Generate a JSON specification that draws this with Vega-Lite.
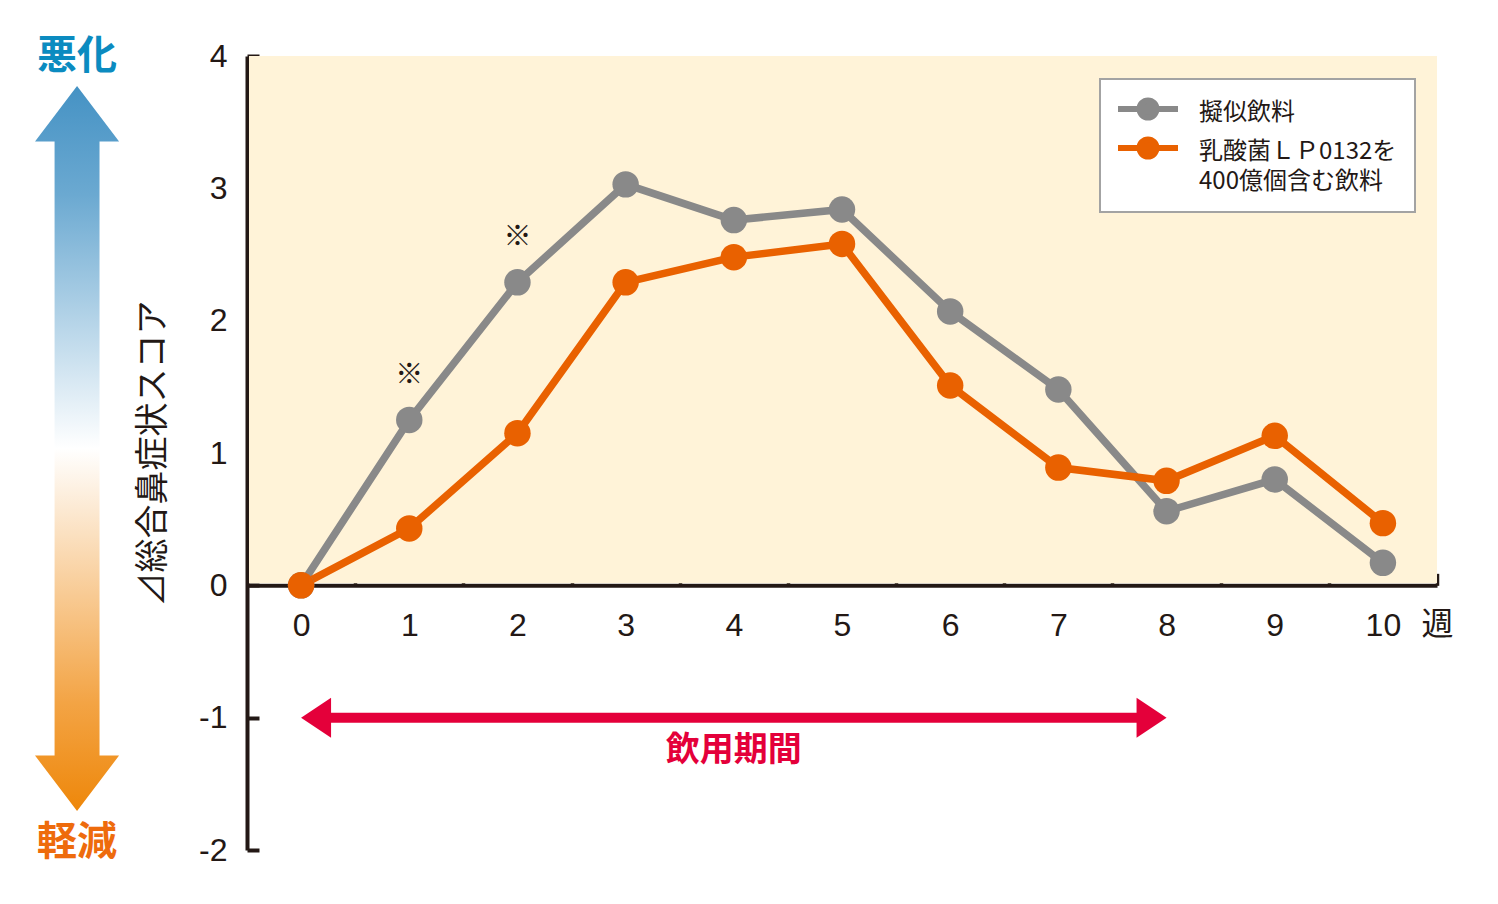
{
  "$schema": "https://vega.github.io/schema/vega-lite/v6.json",
  "width": 1190,
  "height": 794,
  "autosize": {"type": "none"},
  "padding": {"left": 247, "top": 56, "right": 61, "bottom": 54},
  "background": "#ffffff",
  "config": {"view": {"stroke": null}, "font": "Noto Sans CJK JP"},
  "datasets": {
    "scores": [
      {"week": 0, "score": 0, "group": "擬似飲料"},
      {"week": 1, "score": 1.25, "group": "擬似飲料", "sig": "※"},
      {"week": 2, "score": 2.29, "group": "擬似飲料", "sig": "※"},
      {"week": 3, "score": 3.03, "group": "擬似飲料"},
      {"week": 4, "score": 2.76, "group": "擬似飲料"},
      {"week": 5, "score": 2.84, "group": "擬似飲料"},
      {"week": 6, "score": 2.07, "group": "擬似飲料"},
      {"week": 7, "score": 1.48, "group": "擬似飲料"},
      {"week": 8, "score": 0.56, "group": "擬似飲料"},
      {"week": 9, "score": 0.8, "group": "擬似飲料"},
      {"week": 10, "score": 0.17, "group": "擬似飲料"},
      {"week": 0, "score": 0, "group": "乳酸菌ＬＰ0132を400億個含む飲料"},
      {"week": 1, "score": 0.43, "group": "乳酸菌ＬＰ0132を400億個含む飲料"},
      {"week": 2, "score": 1.15, "group": "乳酸菌ＬＰ0132を400億個含む飲料"},
      {"week": 3, "score": 2.29, "group": "乳酸菌ＬＰ0132を400億個含む飲料"},
      {"week": 4, "score": 2.48, "group": "乳酸菌ＬＰ0132を400億個含む飲料"},
      {"week": 5, "score": 2.58, "group": "乳酸菌ＬＰ0132を400億個含む飲料"},
      {"week": 6, "score": 1.51, "group": "乳酸菌ＬＰ0132を400億個含む飲料"},
      {"week": 7, "score": 0.89, "group": "乳酸菌ＬＰ0132を400億個含む飲料"},
      {"week": 8, "score": 0.79, "group": "乳酸菌ＬＰ0132を400億個含む飲料"},
      {"week": 9, "score": 1.13, "group": "乳酸菌ＬＰ0132を400億個含む飲料"},
      {"week": 10, "score": 0.47, "group": "乳酸菌ＬＰ0132を400億個含む飲料"}
    ],
    "period": [{"start": 0, "end": 8, "label": "飲用期間"}],
    "one": [{"item": "decoration"}]
  },
  "layer": [
    {
      "data": {"name": "one"},
      "mark": {"type": "rect", "color": "#FFF3D8", "xOffset": 2, "y2Offset": -2},
      "encoding": {
        "x": {
          "datum": -0.5, "type": "quantitative",
          "scale": {"domain": [-0.5, 10.5], "nice": false, "zero": false},
          "axis": {
            "title": "週", "titleX": 1190, "titleY": 39, "titleAlign": "center", "titleBaseline": "middle",
            "titleFontSize": 32, "titleFontWeight": "normal", "titleColor": "#231815", "titleFont": "Noto Sans CJK JP",
            "values": [0, 1, 2, 3, 4, 5, 6, 7, 8, 9, 10],
            "offset": -264.67, "tickOffset": 54.09, "labelOffset": -54.09,
            "tickSize": -12, "tickWidth": 3.5, "tickColor": "#231815",
            "domainColor": "#231815", "domainWidth": 4,
            "labelFont": "Liberation Sans", "labelFontSize": 32, "labelColor": "#231815", "labelPadding": 37,
            "labelFlush": false, "labelOverlap": false, "labelExpr": "'' + datum.value", "grid": false, "zindex": 0
          }
        },
        "x2": {"datum": 10.5},
        "y": {
          "datum": 4, "type": "quantitative",
          "scale": {"domain": [-2, 4], "nice": false, "zero": false},
          "axis": {
            "title": "⊿総合鼻症状スコア", "titleX": -94, "titleY": 397, "titleAngle": -90,
            "titleAlign": "center", "titleBaseline": "middle",
            "titleFontSize": 34, "titleFontWeight": "normal", "titleColor": "#231815", "titleFont": "Noto Sans CJK JP",
            "values": [-2, -1, 0, 1, 2, 3, 4],
            "tickSize": -12, "tickWidth": 4, "tickColor": "#231815",
            "domainColor": "#231815", "domainWidth": 4,
            "labelFont": "Liberation Sans", "labelFontSize": 32, "labelColor": "#231815", "labelPadding": 32,
            "labelFlush": false, "labelOverlap": false, "labelExpr": "'' + datum.value", "grid": false, "zindex": 0
          }
        },
        "y2": {"datum": 0}
      }
    },
    {
      "data": {"name": "one"},
      "mark": {
        "type": "point",
        "shape": "M0,-1L0.116,-0.847L0.062,-0.847L0.062,0.847L0.116,0.847L0,1L-0.116,0.847L-0.062,0.847L-0.062,-0.847L-0.116,-0.847Z",
        "size": 525625, "filled": true, "opacity": 1, "strokeWidth": 0,
        "fill": {
          "gradient": "linear", "x1": 0, "y1": 0, "x2": 0, "y2": 1,
          "stops": [
            {"offset": 0, "color": "#4592C4"},
            {"offset": 0.15, "color": "#6BA9D1"},
            {"offset": 0.5, "color": "#FFFFFF"},
            {"offset": 0.85, "color": "#F3A445"},
            {"offset": 1, "color": "#EE870A"}
          ]
        }
      },
      "encoding": {"x": {"datum": -2.071}, "y": {"datum": 1.034}}
    },
    {
      "data": {"name": "one"},
      "mark": {"type": "text", "text": "悪化", "fontSize": 40, "fontWeight": "bold", "color": "#0B8BC0", "baseline": "middle", "align": "center"},
      "encoding": {"x": {"datum": -2.071}, "y": {"datum": 3.99}}
    },
    {
      "data": {"name": "one"},
      "mark": {"type": "text", "text": "軽減", "fontSize": 40, "fontWeight": "bold", "color": "#EE6B0C", "baseline": "middle", "align": "center"},
      "encoding": {"x": {"datum": -2.071}, "y": {"datum": -1.947}}
    },
    {
      "data": {"name": "period"},
      "mark": {"type": "rule", "color": "#E4003A", "strokeWidth": 10, "xOffset": 20, "x2Offset": -20},
      "encoding": {"x": {"field": "start", "type": "quantitative"}, "x2": {"field": "end"}, "y": {"datum": -1}}
    },
    {
      "data": {"name": "period"},
      "mark": {"type": "point", "shape": "M1.5,-1L0,0L1.5,1Z", "size": 1600, "filled": true, "opacity": 1, "strokeWidth": 0, "color": "#E4003A"},
      "encoding": {"x": {"field": "start", "type": "quantitative"}, "y": {"datum": -1}}
    },
    {
      "data": {"name": "period"},
      "mark": {"type": "point", "shape": "M-1.5,-1L0,0L-1.5,1Z", "size": 1600, "filled": true, "opacity": 1, "strokeWidth": 0, "color": "#E4003A"},
      "encoding": {"x": {"field": "end", "type": "quantitative"}, "y": {"datum": -1}}
    },
    {
      "data": {"name": "period"},
      "mark": {"type": "text", "fontSize": 34, "fontWeight": "bold", "color": "#E4003A", "baseline": "middle", "align": "center", "dy": 33},
      "encoding": {"x": {"datum": 4}, "y": {"datum": -1}, "text": {"field": "label"}}
    },
    {
      "data": {"name": "scores"},
      "mark": {"type": "line", "strokeWidth": 7.5},
      "encoding": {
        "x": {"field": "week", "type": "quantitative"},
        "y": {"field": "score", "type": "quantitative"},
        "color": {
          "field": "group", "type": "nominal",
          "scale": {"domain": ["擬似飲料", "乳酸菌ＬＰ0132を400億個含む飲料"], "range": ["#898989", "#E96100"]},
          "legend": {
            "orient": "none", "legendX": 853, "legendY": 23, "title": null,
            "fillColor": "#FFFFFF", "strokeColor": "#A3A3A3", "padding": 18,
            "symbolType": "M-1.333,0L5.333,0M2.944,0C2.944,0.522,2.522,0.944,2,0.944C1.478,0.944,1.056,0.522,1.056,0C1.056,-0.522,1.478,-0.944,2,-0.944C2.522,-0.944,2.944,-0.522,2.944,0Z",
            "symbolSize": 324, "symbolStrokeWidth": 6, "symbolOpacity": 1,
            "labelFont": "Noto Sans CJK JP", "labelFontSize": 24, "labelColor": "#231815", "labelOffset": 57, "labelLimit": 400,
            "labelExpr": "datum.value == '擬似飲料' ? datum.value : ['乳酸菌ＬＰ0132を', '400億個含む飲料']",
            "rowPadding": -3,
            "encode": {
              "legend": {"update": {"strokeWidth": {"value": 2}}},
              "symbols": {"update": {"fill": {"scale": "color", "field": "value"}, "stroke": {"scale": "color", "field": "value"}}},
              "labels": {"update": {"lineHeight": {"value": 30}, "dy": {"value": 4}}}
            }
          }
        }
      }
    },
    {
      "data": {"name": "scores"},
      "mark": {"type": "point", "size": 700, "filled": true, "opacity": 1, "strokeWidth": 0},
      "encoding": {
        "x": {"field": "week", "type": "quantitative"},
        "y": {"field": "score", "type": "quantitative"},
        "color": {
          "field": "group", "type": "nominal",
          "scale": {"domain": ["擬似飲料", "乳酸菌ＬＰ0132を400億個含む飲料"], "range": ["#898989", "#E96100"]},
          "legend": {
            "orient": "none", "legendX": 853, "legendY": 23, "title": null,
            "fillColor": "#FFFFFF", "strokeColor": "#A3A3A3", "padding": 18,
            "symbolType": "M-1.333,0L5.333,0M2.944,0C2.944,0.522,2.522,0.944,2,0.944C1.478,0.944,1.056,0.522,1.056,0C1.056,-0.522,1.478,-0.944,2,-0.944C2.522,-0.944,2.944,-0.522,2.944,0Z",
            "symbolSize": 324, "symbolStrokeWidth": 6, "symbolOpacity": 1,
            "labelFont": "Noto Sans CJK JP", "labelFontSize": 24, "labelColor": "#231815", "labelOffset": 57, "labelLimit": 400,
            "labelExpr": "datum.value == '擬似飲料' ? datum.value : ['乳酸菌ＬＰ0132を', '400億個含む飲料']",
            "rowPadding": -3,
            "encode": {
              "legend": {"update": {"strokeWidth": {"value": 2}}},
              "symbols": {"update": {"fill": {"scale": "color", "field": "value"}, "stroke": {"scale": "color", "field": "value"}}},
              "labels": {"update": {"lineHeight": {"value": 30}, "dy": {"value": 4}}}
            }
          }
        }
      }
    },
    {
      "data": {"name": "scores"},
      "transform": [{"filter": "datum.sig == '※'"}],
      "mark": {"type": "text", "fontSize": 28, "color": "#231815", "baseline": "middle", "align": "center", "dy": -44},
      "encoding": {
        "x": {"field": "week", "type": "quantitative"},
        "y": {"field": "score", "type": "quantitative"},
        "text": {"field": "sig"}
      }
    }
  ]
}
